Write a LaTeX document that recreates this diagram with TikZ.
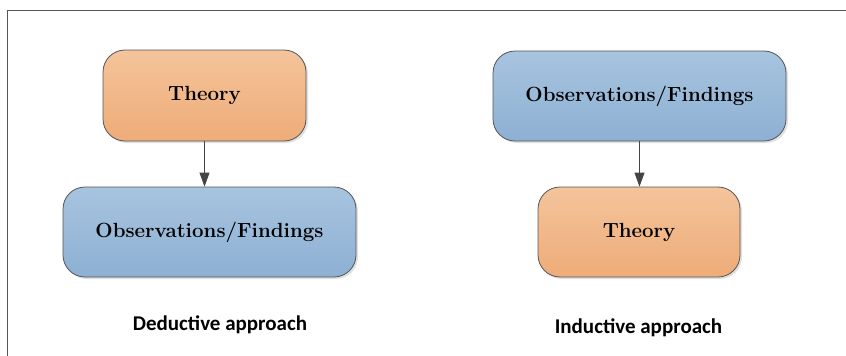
\documentclass[tikz,border=0pt]{standalone}
\usepackage{fontspec}
\newfontfamily\labfont{Carlito}
\usetikzlibrary{arrows.meta,shadows}
\definecolor{orangetop}{HTML}{F4C49B}
\definecolor{orangebot}{HTML}{EEAC78}
\definecolor{bluetop}{HTML}{A7C4DF}
\definecolor{bluebot}{HTML}{8DB0D3}
\definecolor{edgegray}{HTML}{555555}
\begin{document}
\begin{tikzpicture}[x=1pt,y=-1pt,
  boxbase/.style={draw=edgegray, line width=0.8pt, rounded corners=22pt,
    font=\fontsize{20.5}{24}\selectfont\bfseries, text=black,
    drop shadow={shadow xshift=2pt, shadow yshift=-2pt, fill=black, opacity=0.12}},
  orangebox/.style={boxbase, top color=orangetop, bottom color=orangebot},
  bluebox/.style={boxbase, top color=bluetop, bottom color=bluebot},
  conn/.style={draw=edgegray!80!black, line width=0.8pt, -{Triangle[length=14pt,width=10pt]}},
  caption/.style={font=\labfont\fontsize{21}{25}\selectfont\bfseries, text=black}
]
\useasboundingbox (0,0) rectangle (846,356);
\draw[edgegray, line width=1pt] (7,356) -- (7,10) -- (846,10);
\node[orangebox, minimum width=203pt, minimum height=91pt] (t1) at (204.5,95.5) {Theory};
\node[bluebox, minimum width=293pt, minimum height=90pt] (o1) at (209.5,232) {Observations/Findings};
\node[bluebox, minimum width=293pt, minimum height=90pt] (o2) at (639.5,96) {Observations/Findings};
\node[orangebox, minimum width=202pt, minimum height=90pt] (t2) at (639,232) {Theory};
\draw[conn] (t1) -- (t1.south |- o1.north);
\draw[conn] (o2) -- (o2.south |- t2.north);
\node[caption] (c1) at (220,325) {Deductive approach};
\node[caption] (c2) at (638.5,328) {Inductive approach};
\end{tikzpicture}
\end{document}
